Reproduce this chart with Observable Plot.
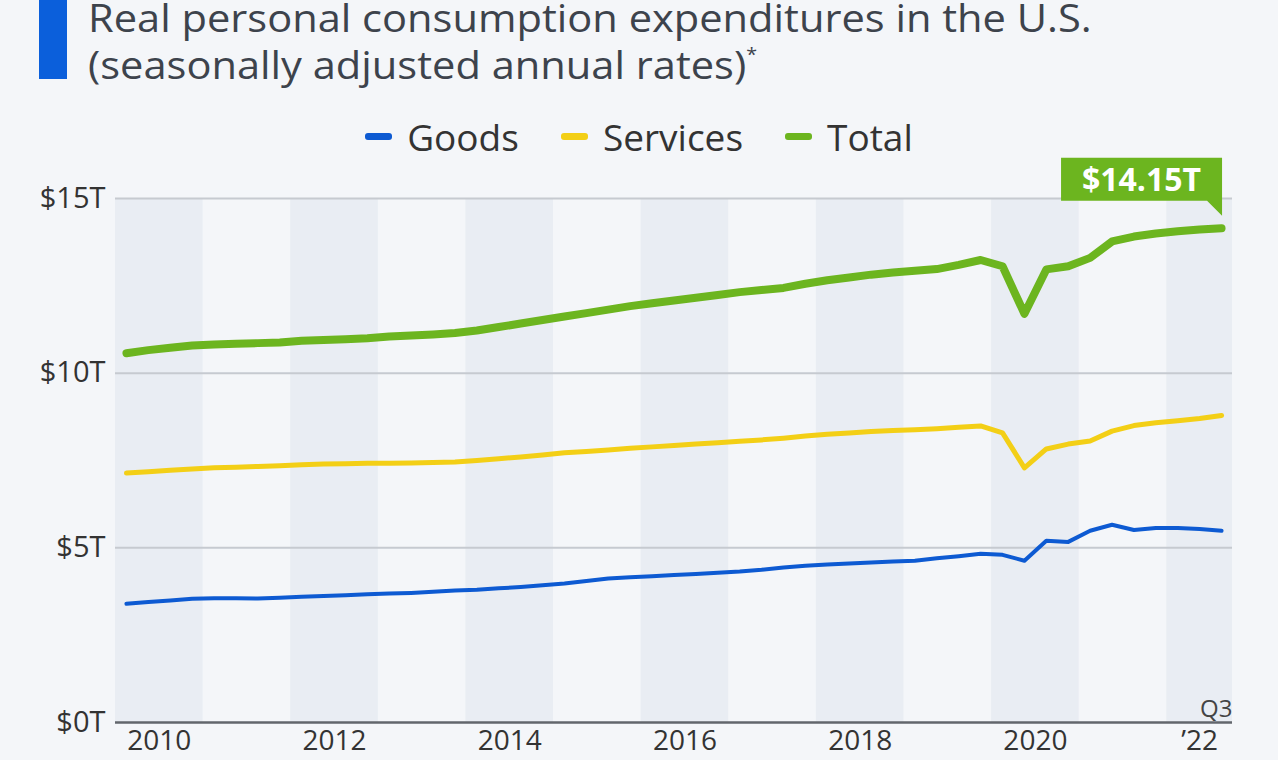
<!DOCTYPE html>
<html>
<head>
<meta charset="utf-8">
<script src="https://cdn.jsdelivr.net/npm/d3@7"></script>
<script src="https://cdn.jsdelivr.net/npm/@observablehq/plot@0.6"></script>
<style>
  html, body { margin: 0; padding: 0; }
  body { width: 1278px; height: 760px; overflow: hidden; background: #f4f6f9; position: relative; font-family: "Open Sans", sans-serif; }
  #bar { position: absolute; left: 39px; top: 0; width: 28px; height: 79px; background: #0b5fdb; }
  #title { position: absolute; left: 88px; top: -6px; font-size: 38px; line-height: 47px; color: #3d434c; white-space: nowrap; transform: scaleX(1.095); transform-origin: left top; }
  #title sup { font-size: 18px; line-height: 0; vertical-align: super; position: relative; top: -4px; }
  #legend { position: absolute; left: 0; width: 1278px; top: 111px; display: flex; justify-content: center; align-items: center; gap: 42px; font-size: 37px; color: #333; }
  .item { display: flex; align-items: center; gap: 15px; }
  .sw { width: 27px; height: 7px; border-radius: 3px; }
  #chart { position: absolute; left: 0; top: 150px; }
</style>
</head>
<body>
<div id="bar"></div>
<div id="title">Real personal consumption expenditures in the U.S.<br>(seasonally adjusted annual rates)<sup>*</sup></div>
<div id="legend"></div>
<div id="chart"></div>
<script>
// ---- Data (trillions of chained US dollars, quarterly, 2010 Q1 – 2022 Q3) ----
const seriesNames = ["Goods", "Services", "Total"];
const seriesColors = ["#0d5ad2", "#f3cf16", "#6cb51f"];
const startYear = 2010;
const goods = [
  3.40, 3.45, 3.49, 3.54,
  3.56, 3.56, 3.55, 3.57,
  3.60, 3.62, 3.64, 3.67,
  3.69, 3.71, 3.74, 3.78,
  3.80, 3.84, 3.88, 3.93,
  3.98, 4.05, 4.12, 4.16,
  4.19, 4.22, 4.25, 4.29,
  4.32, 4.37, 4.44, 4.49,
  4.52, 4.55, 4.58, 4.61,
  4.63, 4.70, 4.76, 4.83,
  4.80, 4.63, 5.20, 5.17,
  5.49, 5.66, 5.51, 5.57,
  5.57, 5.54, 5.49
];
const services = [
  7.14, 7.18, 7.22, 7.26,
  7.29, 7.31, 7.33, 7.35,
  7.38, 7.40, 7.41, 7.42,
  7.42, 7.43, 7.44, 7.46,
  7.50, 7.55, 7.60, 7.66,
  7.72, 7.76, 7.80, 7.85,
  7.89, 7.93, 7.97, 8.01,
  8.05, 8.09, 8.14, 8.20,
  8.25, 8.29, 8.33, 8.36,
  8.38, 8.41, 8.45, 8.49,
  8.29, 7.29, 7.83, 7.97,
  8.06, 8.34, 8.50, 8.58,
  8.64, 8.70, 8.79
];
const total = [
  10.57, 10.66, 10.73, 10.79,
  10.82, 10.84, 10.86, 10.88,
  10.93, 10.95, 10.97, 11.00,
  11.05, 11.08, 11.11, 11.15,
  11.22, 11.32, 11.42, 11.52,
  11.62, 11.72, 11.82, 11.92,
  12.00, 12.08, 12.16, 12.24,
  12.32, 12.38, 12.44, 12.56,
  12.66, 12.74, 12.82, 12.88,
  12.93, 12.98, 13.10, 13.24,
  13.06, 11.70, 12.97, 13.06,
  13.30, 13.77, 13.91, 14.00,
  14.06, 14.11, 14.15
];
const yTicks = [0, 5, 10, 15];
const xTickYears = [2010, 2012, 2014, 2016, 2018, 2020, 2022];
const xTickLabels = ["2010", "2012", "2014", "2016", "2018", "2020", "’22"];
const lastQuarterLabel = "Q3";

// ---- Build table ----
const quarterTime = (i) => startYear + Math.floor(i / 4) + ((i % 4) + 0.5) / 4;
const xEnd = startYear + total.length / 4;
const rows = [];
[goods, services, total].forEach((arr, s) => arr.forEach((v, i) => rows.push({ series: seriesNames[s], t: quarterTime(i), value: v })));
const bands = xTickYears.map(y => ({ x1: y, x2: Math.min(y + 1, xEnd) }));
const tickPos = bands.map(b => (b.x1 + b.x2) / 2);
const tickLabelOf = new Map(tickPos.map((p, i) => [p, xTickLabels[i]]));
const lastT = quarterTime(total.length - 1);
const lastTotal = total[total.length - 1];

// ---- Legend ----
const legend = document.getElementById("legend");
seriesNames.forEach((n, i) => {
  const it = document.createElement("div");
  it.className = "item";
  it.innerHTML = `<span class="sw" style="background:${seriesColors[i]}"></span><span>${n}</span>`;
  legend.appendChild(it);
});

// ---- Annotation mark (callout box) ----
function callout(index, scales) {
  const px = scales.x(lastT), py = scales.y(lastTotal);
  const g = d3.create("svg:g");
  const w = 161, h = 43, tipGap = 12, tail = 15;
  const bottom = py - tipGap - tail;
  g.append("path")
    .attr("fill", seriesColors[2])
    .attr("d", `M${px + 1},${py - tipGap} L${px + 1 - tail},${bottom} H${px + 1 - w} V${bottom - h} H${px + 1} Z`);
  g.append("text")
    .attr("x", px + 1 - w / 2)
    .attr("y", bottom - h / 2)
    .attr("text-anchor", "middle")
    .attr("dy", "0.36em")
    .attr("fill", "white")
    .attr("font-weight", "bold")
    .attr("font-size", 32)
    .text(`$${lastTotal.toFixed(2)}T`);
  return g.node();
}

const plot = Plot.plot({
  width: 1278,
  height: 610,
  marginTop: 48,
  marginBottom: 38,
  marginLeft: 115,
  marginRight: 46,
  style: { fontFamily: "Open Sans, sans-serif", fontSize: "28px", color: "#333", background: "transparent", overflow: "visible" },
  x: { domain: [startYear, xEnd], label: null },
  y: { domain: [0, 15], label: null },
  marks: [
    Plot.rect(bands, { x1: "x1", x2: "x2", y1: 0, y2: 15, fill: "#e9edf3" }),
    Plot.ruleY(yTicks.filter(d => d > 0), { stroke: "#c6cad0", strokeWidth: 2 }),
    Plot.ruleY([0], { stroke: "#62666c", strokeWidth: 2.5 }),
    Plot.axisY(yTicks, { tickSize: 0, tickPadding: 10, tickFormat: d => `$${d}T`, fill: "#333", fontSize: 29, label: null }),
    Plot.axisX(tickPos, { tickSize: 0, tickPadding: 8, tickFormat: d => tickLabelOf.get(d), fill: "#333", fontSize: 28, label: null }),
    Plot.text([lastQuarterLabel], { x: xEnd, y: 0, text: d => d, textAnchor: "end", lineAnchor: "bottom", dy: -6, fontSize: 24, fill: "#444" }),
    Plot.line(rows.filter(d => d.series === "Goods"), { x: "t", y: "value", stroke: seriesColors[0], strokeWidth: 4, strokeLinejoin: "round", strokeLinecap: "round" }),
    Plot.line(rows.filter(d => d.series === "Services"), { x: "t", y: "value", stroke: seriesColors[1], strokeWidth: 5, strokeLinejoin: "round", strokeLinecap: "round" }),
    Plot.line(rows.filter(d => d.series === "Total"), { x: "t", y: "value", stroke: seriesColors[2], strokeWidth: 8, strokeLinejoin: "round", strokeLinecap: "round" }),
    callout
  ]
});
document.getElementById("chart").appendChild(plot);
</script>
</body>
</html>
